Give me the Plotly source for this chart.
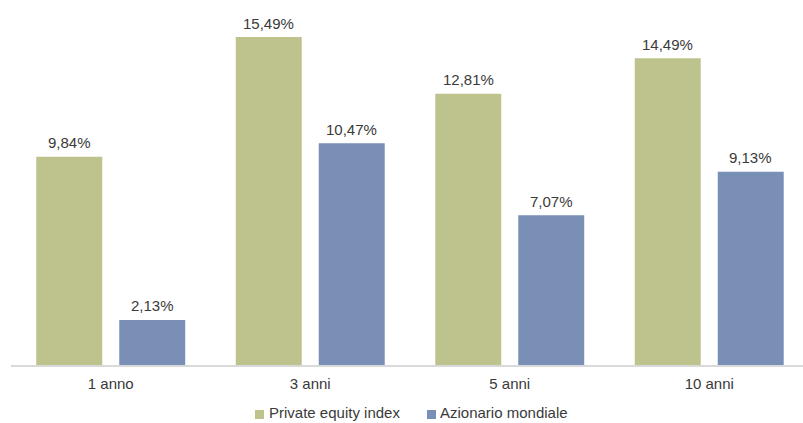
import plotly.graph_objects as go

categories = ["1 anno", "3 anni", "5 anni", "10 anni"]
series_names = ["Private equity index", "Azionario mondiale"]
private_equity = [9.84, 15.49, 12.81, 14.49]
azionario = [2.13, 10.47, 7.07, 9.13]
colors = ["#BEC28D", "#7A8FB5"]
text_color = "#3A3A3A"
font_family = "Liberation Sans, Arial, sans-serif"

def fmt(v):
    return f"{v:.2f}".replace(".", ",") + "%"

fig = go.Figure()
for name, vals, col in zip(series_names, [private_equity, azionario], colors):
    fig.add_trace(go.Bar(x=categories, y=vals, name=name, marker_color=col,
                         marker_line_width=0, showlegend=False, hoverinfo="skip"))

# value labels
for vals, shift in [(private_equity, -41.5), (azionario, 41.5)]:
    for c, v in zip(categories, vals):
        fig.add_annotation(x=c, y=v, xref="x", yref="y", text=fmt(v), showarrow=False,
                           xshift=shift, yshift=14, yanchor="middle",
                           font=dict(size=15, color=text_color, family=font_family))

# manual legend
W, H = 792, 365
def px2x(p):
    return (p - 11) / W
def py2y(p):
    return (H - p) / H
legend_items = [(255, 267), (427, 438)]
for (mx, tx), name, col in zip(legend_items, series_names, colors):
    fig.add_shape(type="rect", xref="paper", yref="paper",
                  x0=px2x(mx), x1=px2x(mx + 9), y0=py2y(410), y1=py2y(419),
                  fillcolor=col, line_width=0)
    fig.add_annotation(x=px2x(tx), y=py2y(413), xref="paper", yref="paper",
                       text=name, showarrow=False, xanchor="left", yanchor="middle",
                       font=dict(size=15, color=text_color, family=font_family))

fig.update_layout(
    width=803, height=423,
    margin=dict(l=11, r=0, t=0, b=58),
    paper_bgcolor="white", plot_bgcolor="white",
    barmode="group", bargap=0.168, bargroupgap=0.205,
    font=dict(family=font_family, size=15, color=text_color),
    xaxis=dict(range=[-0.5, 3.47], showline=True, linecolor="#D9D9D9", linewidth=2,
               ticks="", showgrid=False, tickfont=dict(size=15, color=text_color),
               ticklabelstandoff=4),
    yaxis=dict(range=[0, 17.24], visible=False, showgrid=False, zeroline=False),
)

fig.write_html("out.html")
